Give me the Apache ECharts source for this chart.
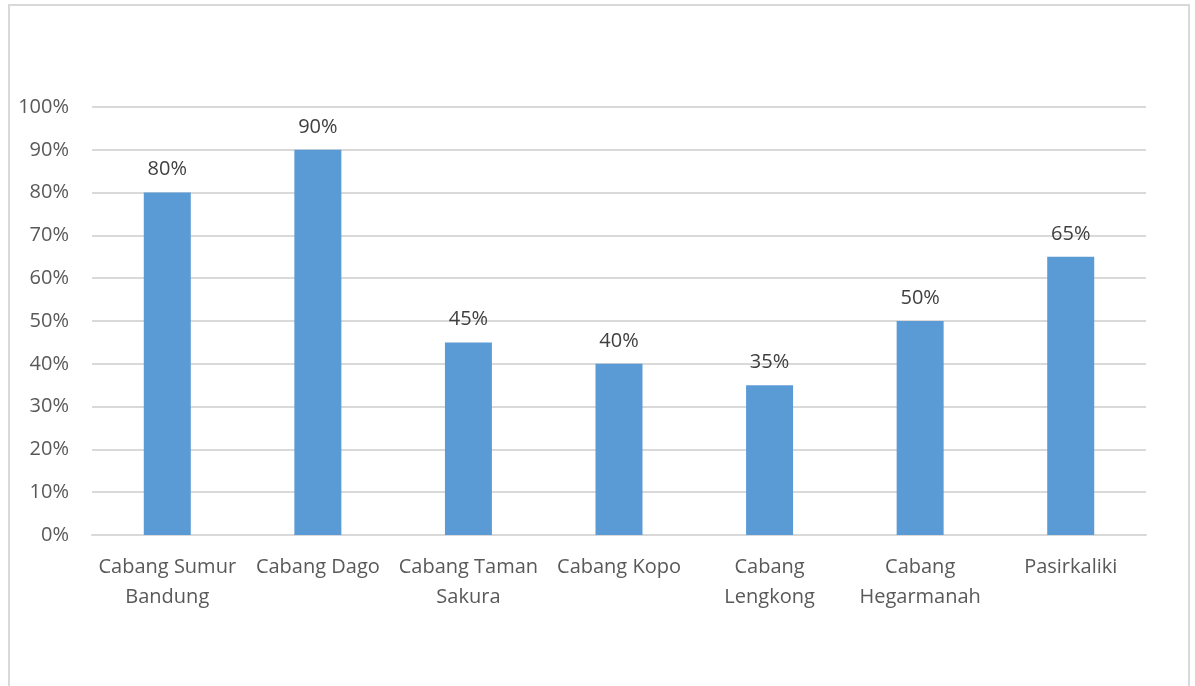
<!DOCTYPE html>
<html>
<head>
<meta charset="utf-8">
<script src="https://cdn.jsdelivr.net/npm/echarts@6/dist/echarts.min.js"></script>
<style>
html,body{margin:0;padding:0;background:#fff;}
#chart{width:1195px;height:686px;}
</style>
</head>
<body>
<div id="chart"></div>
<script>
const categories = ["Cabang Sumur\nBandung", "Cabang Dago", "Cabang Taman\nSakura", "Cabang Kopo", "Cabang\nLengkong", "Cabang\nHegarmanah", "Pasirkaliki"];
const values = [80, 90, 45, 40, 35, 50, 65];
const yTicks = [0, 10, 20, 30, 40, 50, 60, 70, 80, 90, 100];

const font = "'Open Sans', 'Noto Sans', sans-serif";
const chart = echarts.init(document.getElementById('chart'), null, {renderer: 'canvas'});
chart.setOption({
  animation: false,
  backgroundColor: '#ffffff',
  graphic: [{
    type: 'rect',
    shape: {x: 9, y: 5, width: 1180, height: 720},
    style: {fill: 'none', stroke: '#d9d9d9', lineWidth: 2},
    silent: true
  }],
  grid: {left: 92, right: 49, top: 107, bottom: 151, containLabel: false},
  xAxis: {
    type: 'category',
    data: categories,
    axisLine: {show: true, lineStyle: {color: '#d9d9d9', width: 2}},
    axisTick: {show: false},
    axisLabel: {color: '#595959', fontSize: 20, fontFamily: font, lineHeight: 30, margin: 17, interval: 0}
  },
  yAxis: {
    type: 'value',
    min: yTicks[0],
    max: yTicks[yTicks.length - 1],
    interval: 10,
    axisLine: {show: false},
    axisTick: {show: false},
    splitLine: {lineStyle: {color: '#d9d9d9', width: 2}},
    axisLabel: {color: '#595959', fontSize: 20, fontFamily: font, margin: 23, formatter: v => v + '%'}
  },
  series: [{
    type: 'bar',
    data: values,
    barWidth: 47,
    itemStyle: {color: '#5b9bd5'},
    label: {show: true, position: 'top', distance: 13, color: '#404040', fontSize: 20, fontFamily: font, formatter: p => p.value + '%'}
  }]
});
</script>
</body>
</html>
